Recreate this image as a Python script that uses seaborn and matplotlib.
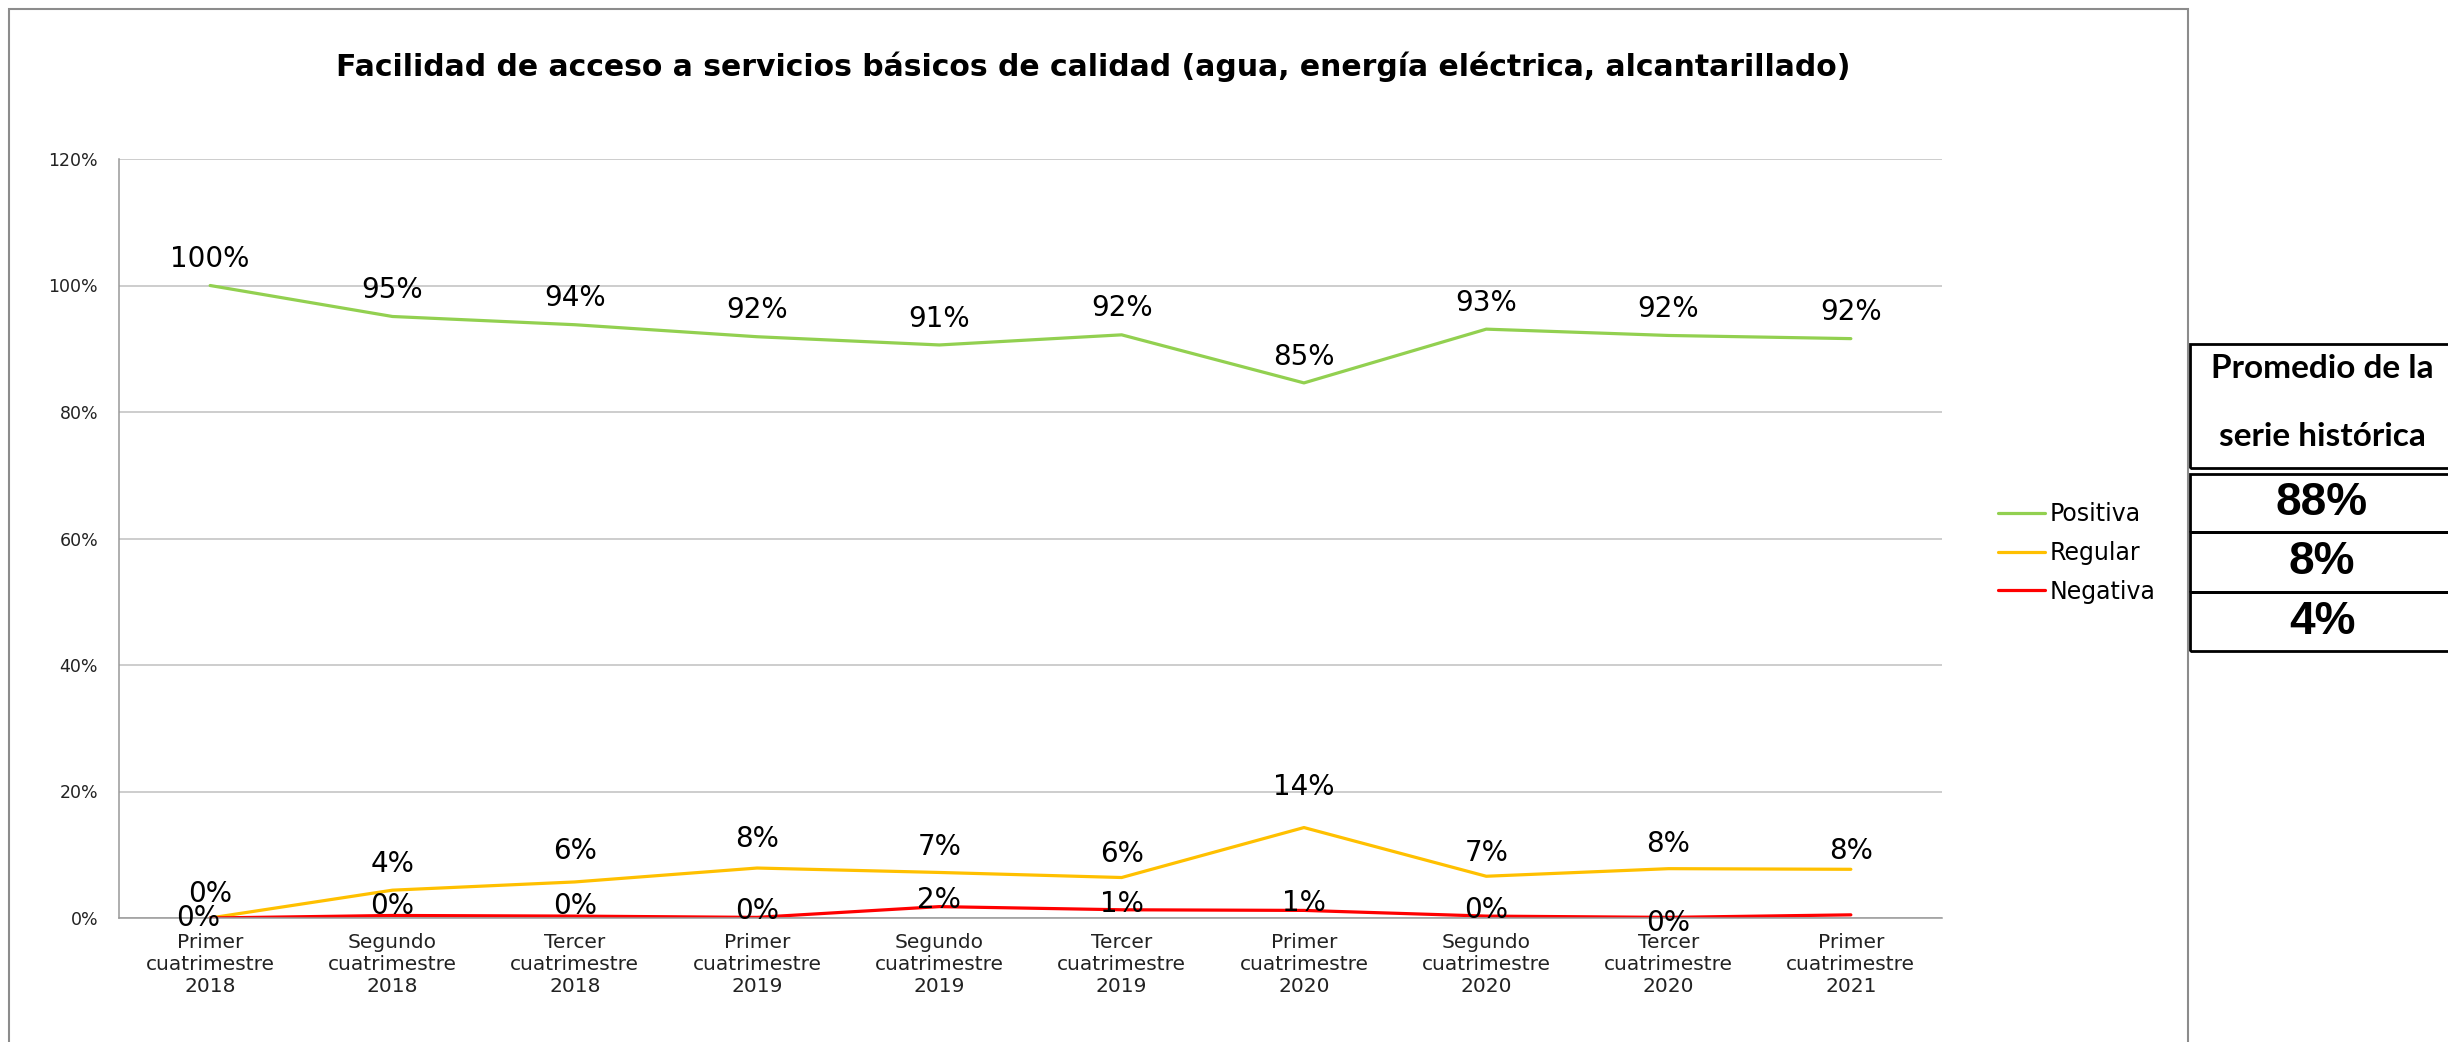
import matplotlib
matplotlib.use("Agg")
import matplotlib.pyplot as plt
from matplotlib.patches import Rectangle
from matplotlib.ticker import MultipleLocator, FuncFormatter
import seaborn as sns
import pandas as pd
import numpy as np

# datos
categorias = ["Primer\ncuatrimestre\n2018", "Segundo\ncuatrimestre\n2018", "Tercer\ncuatrimestre\n2018",
              "Primer\ncuatrimestre\n2019", "Segundo\ncuatrimestre\n2019", "Tercer\ncuatrimestre\n2019",
              "Primer\ncuatrimestre\n2020", "Segundo\ncuatrimestre\n2020", "Tercer\ncuatrimestre\n2020",
              "Primer\ncuatrimestre\n2021"]
positiva = [100, 95.1, 93.8, 91.9, 90.6, 92.2, 84.6, 93.1, 92.1, 91.6]
regular = [0, 4.4, 5.7, 7.9, 7.2, 6.4, 14.3, 6.6, 7.8, 7.7]
negativa = [0, 0.4, 0.3, 0.1, 1.8, 1.3, 1.2, 0.3, 0.1, 0.5]
series = ["Positiva", "Regular", "Negativa"]
promedio = ["88%", "8%", "4%"]
encabezado = ["Promedio de la", "serie histórica"]
titulo = "Facilidad de acceso a servicios básicos de calidad (agua, energía eléctrica, alcantarillado)"

colores = {"Positiva": "#92D050", "Regular": "#FFC000", "Negativa": "#FF0000"}

W, H = 2448, 1042
DPI = 100

sns.set_theme(style="white")
plt.rcParams['font.family'] = ['DejaVu Sans']
plt.rcParams['text.color'] = 'black'
plt.rcParams['xtick.color'] = 'black'
plt.rcParams['ytick.color'] = 'black'

df = pd.DataFrame({
    "x": np.tile(np.arange(len(categorias)), 3),
    "valor": positiva + regular + negativa,
    "serie": np.repeat(series, len(categorias)),
})

fig = plt.figure(figsize=(W / DPI, H / DPI), dpi=DPI)
fig.patch.set_facecolor("white")
ax = fig.add_axes([119 / W, 1 - 918 / H, (1942 - 119) / W, (918 - 159) / H])

sns.lineplot(data=df, x="x", y="valor", hue="serie", hue_order=series, palette=colores,
             linewidth=2.3, ax=ax, legend=True)

ax.set_xlim(-0.5, len(categorias) - 0.5)
ax.set_ylim(0, 120)
ax.yaxis.set_major_locator(MultipleLocator(20))
ax.yaxis.set_major_formatter(FuncFormatter(lambda v, p: f"{v:.0f}%"))
ax.set_xticks(np.arange(len(categorias)))
ax.set_xticklabels(categorias, fontsize=14.5, linespacing=1.2, color="#222222")
ax.tick_params(axis="y", labelsize=12.5, pad=15, length=0, labelcolor="#222222")
ax.tick_params(axis="x", pad=11, length=0)
ax.set_xlabel("")
ax.set_ylabel("")
ax.grid(axis="y", color="#c0c0c0", linewidth=1.1)
ax.set_axisbelow(True)
for s in ["top", "right"]:
    ax.spines[s].set_visible(False)
for s in ["left", "bottom"]:
    ax.spines[s].set_color("#999999")
    ax.spines[s].set_linewidth(1.1)

# etiquetas de datos
def etiquetas(valores, dys, dxs=None):
    for i, v in enumerate(valores):
        if dys[i] is None:
            continue
        dx = 0 if dxs is None else dxs[i]
        ax.annotate(f"{round(v):.0f}%", (i, v), xytext=(dx, dys[i]), textcoords="offset points",
                    ha="center", va="center", fontsize=20, color="black")

etiquetas(positiva, [19] * 10)
etiquetas(regular, [17.5, 18.5, 22, 21, 18.5, 17, 29, 16.5, 17.5, 13])
etiquetas(negativa, [0, 7, 7, 4.5, 4.5, 4, 5, 4.5, -4, None], [-9, 0, 0, 0, 0, 0, 0, 0, 0, 0])

# leyenda
handles, labels = ax.get_legend_handles_labels()
ax.get_legend().remove()
fig.legend(handles, labels, loc="center left", bbox_to_anchor=(1998 / W, 1 - 553 / H),
           frameon=False, fontsize=17, handlelength=2.0, handletextpad=0.2,
           labelspacing=0.62, borderpad=0, borderaxespad=0)

# marco del grafico
fig.patches.append(Rectangle((9 / W, -0.02), (2188 - 9) / W, 1.02 - 9 / H,
                             transform=fig.transFigure, fill=False,
                             edgecolor="#8c8c8c", linewidth=1.5))

fig.text(1093 / W, 1 - 67 / H, titulo, ha="center", va="center",
         fontsize=21.5, fontweight="bold", color="black")

# tabla de promedios
x0 = 2190 / W
ancho = 270 / W
def caja(y_top, y_bot):
    fig.patches.append(Rectangle((x0, 1 - y_bot / H), ancho, (y_bot - y_top) / H,
                                 transform=fig.transFigure, fill=False,
                                 edgecolor="black", linewidth=2.0, zorder=5))

caja(344, 468)
filas = [(474, 532), (532, 592), (592, 651)]
for f in filas:
    caja(*f)

cx = 2322 / W
for yc, txt in zip([369, 437], encabezado):
    fig.text(cx, 1 - yc / H, txt, ha="center", va="center", fontsize=24,
             fontweight="bold", color="black", family=["Lato", "DejaVu Sans"])
for (yt, yb), txt in zip(filas, promedio):
    fig.text(cx, 1 - (yt + yb) / 2 / H, txt, ha="center", va="center", fontsize=33,
             fontweight="bold", color="black", family=["Liberation Sans", "DejaVu Sans"])

fig.savefig("out.png", dpi=DPI)
